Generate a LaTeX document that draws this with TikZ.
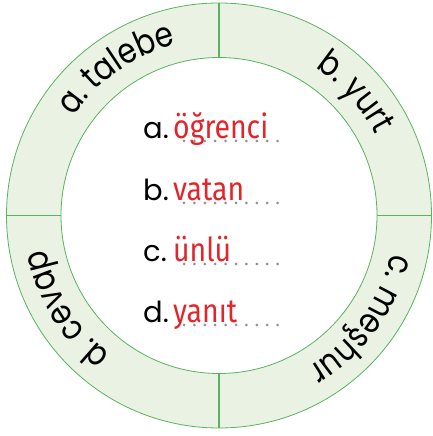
\documentclass[tikz,border=0pt]{standalone}
\usepackage{fontspec}
\setmainfont{Poppins}
\newfontfamily\ringfont[FakeStretch=0.84]{Poppins}
\newfontfamily\wordfont[FakeStretch=0.86]{Fira Sans}
\usetikzlibrary{decorations.text}
\definecolor{ringgreen}{HTML}{5BB25F}
\definecolor{ringfill}{HTML}{E9F2E3}
\definecolor{wordred}{HTML}{E3242B}
\definecolor{dotgray}{HTML}{909090}

\begin{document}
\begin{tikzpicture}[x=1pt,y=1pt]
	\tikzset{ringtext/.style={decorate,decoration={text along path,text align=center,text={|\ringfont\fontsize{35}{35}\selectfont|#1}}},
		itemlabel/.style={anchor=base west,inner sep=0pt,font=\fontsize{29}{29}\selectfont},
		itemword/.style={anchor=base west,inner sep=0pt,text=wordred,font=\wordfont\fontsize{33}{33}\selectfont}}
	\useasboundingbox (0,0) rectangle (432,436);

	\coordinate (c) at (219,220.5);
	\fill[ringfill,even odd rule] (c) circle (212.5) (c) circle (158);
	\draw[ringgreen,line width=0.8pt] (c) circle (212.5);
	\draw[ringgreen,line width=0.8pt] (c) circle (158);
	\foreach \a in {0,90,180,270}{
		\draw[ringgreen,line width=1.2pt] (c) ++(\a:158) -- ++(\a:54.5);
	}

	% words on the ring
	\path[ringtext={a. talebe}] (c) ++(170:176) arc[start angle=170,end angle=80,radius=176];
	\path[ringtext={b. yurt}] (c) ++(87:176) arc[start angle=87,end angle=-3,radius=176];
	\path[ringtext={c. meşhur}] (c) ++(9:176) arc[start angle=9,end angle=-81,radius=176];
	\path[ringtext={d. cevap}] (c) ++(-103.5:176) arc[start angle=-103.5,end angle=-193.5,radius=176];

	% list in the middle
	\foreach \l/\w/\y in {a/öğrenci/297,b/vatan/235,c/ünlü/174,d/yanıt/113}{
		\node[itemlabel] (lab\l) at (143,\y) {\l.};
		\node[itemword] (word\l) at (173,\y) {\w};
		\foreach \k in {0,...,9}
			\fill[dotgray] (184+\k*10.4,\y-2) circle (1.5);
	}
\end{tikzpicture}
\end{document}
